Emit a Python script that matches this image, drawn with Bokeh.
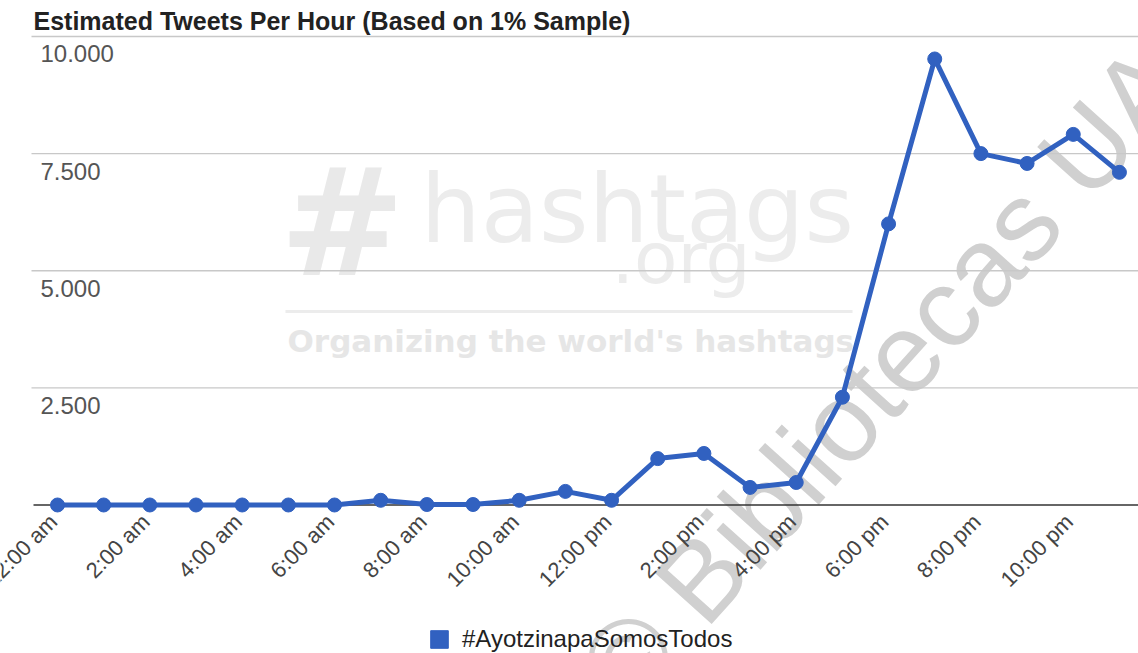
from math import pi, radians
from bokeh.plotting import figure
from bokeh.models import Range1d, Legend, LegendItem
from bokeh.core.properties import value
from bokeh.embed import file_html
from bokeh.resources import INLINE

# ---------------- data ----------------
hours = list(range(24))
tweets = [0, 0, 0, 0, 0, 0, 0, 100, 10, 10, 100, 290, 100, 990, 1100, 375,
          480, 2300, 6000, 9520, 7500, 7290, 7910, 7100]
tick_hours = [0, 2, 4, 6, 8, 10, 12, 14, 16, 18, 20, 22]
tick_labels = ["12:00 am", "2:00 am", "4:00 am", "6:00 am", "8:00 am", "10:00 am",
               "12:00 pm", "2:00 pm", "4:00 pm", "6:00 pm", "8:00 pm", "10:00 pm"]
y_ticks = [2500, 5000, 7500, 10000]
y_tick_labels = ["2.500", "5.000", "7.500", "10.000"]
series_name = "#AyotzinapaSomosTodos"
title_text = "Estimated Tweets Per Hour (Based on 1% Sample)"

# ---------------- layout ----------------
W, H = 1138, 653
X0, X1 = -1.2346, 23.413
Y0, Y1 = -3170, 10768
BLUE = "#3161c0"
FONT = value("Liberation Sans")


def xd(px):  # canvas pixel -> data x
    return X0 + px / W * (X1 - X0)


def yd(py):  # canvas pixel -> data y
    return Y1 - py / H * (Y1 - Y0)


p = figure(width=W, height=H, x_range=Range1d(X0, X1), y_range=Range1d(Y0, Y1),
           min_border=0, toolbar_location=None, x_axis_location=None,
           y_axis_location=None, output_backend="svg", title=None)
p.outline_line_color = None
p.background_fill_color = "white"
p.border_fill_color = "white"
p.grid.visible = False

# ---- watermarks ----
p.text(x=[xd(279)], y=[yd(222)], text=["#"], text_font=value("DejaVu Sans"),
       text_font_style="bold", text_font_size="150px", text_color="#e9e9e9",
       text_align="left", text_baseline="alphabetic")
p.text(x=[xd(420)], y=[yd(208)], text=["hashtags"], text_font=value("DejaVu Sans"),
       text_font_size="95px", text_color="#ececec",
       text_align="left", text_baseline="alphabetic")
p.text(x=[xd(611)], y=[yd(258)], text=[".org"], text_font=value("DejaVu Sans"),
       text_font_size="71px", text_color="#ececec",
       text_align="left", text_baseline="alphabetic")
p.segment(x0=[xd(285)], y0=[yd(311)], x1=[xd(852)], y1=[yd(311)],
          line_color="#ececec", line_width=3)
p.text(x=[xd(287)], y=[yd(340)], text=["Organizing the world's hashtags"],
       text_font=value("DejaVu Sans"), text_font_style="bold",
       text_font_size="31px", text_color="#e6e6e6",
       text_align="left", text_baseline="alphabetic")
p.text(x=[xd(882)], y=[yd(376)], text=["© Bibliotecas UA"], text_font=FONT,
       text_font_size="112px", text_color="#d0d0d0", angle=radians(48),
       text_align="center", text_baseline="middle")

# ---- grid & baseline ----
p.segment(x0=[xd(31)] * len(y_ticks), y0=y_ticks, x1=[X1] * len(y_ticks), y1=y_ticks,
          line_color="#c8c8c8", line_width=1.3)
p.segment(x0=[xd(33)], y0=[0], x1=[X1], y1=[0], line_color="#333333", line_width=1.6)

# ---- series ----
p.line(hours, tweets, line_width=5, line_color=BLUE, line_join="round")
p.scatter(hours, tweets, size=14, fill_color=BLUE, line_color=BLUE)

# ---- axis labels ----
p.text(x=tick_hours, y=[0] * len(tick_hours), text=tick_labels, angle=pi / 4,
       text_align="right", text_baseline="middle", x_offset=-4, y_offset=13,
       text_font=FONT, text_font_size="22px", text_color="#444444")
p.text(x=[X0] * len(y_ticks), y=y_ticks, text=y_tick_labels, x_offset=40, y_offset=9,
       text_align="left", text_baseline="top",
       text_font=FONT, text_font_size="24px", text_color="#555555")

# ---- title ----
p.text(x=[X0], y=[yd(20)], text=[title_text], x_offset=33,
       text_align="left", text_baseline="alphabetic", text_font=FONT,
       text_font_style="bold", text_font_size="25px", text_color="#222222")

# ---- legend ----
sq = p.rect(x=[X1 + 10], y=[0], width=1, height=1, fill_color=BLUE, line_color=BLUE)
legend = Legend(items=[LegendItem(label=series_name, renderers=[sq])],
                location=(428, 0), glyph_width=22, glyph_height=22,
                label_text_font="Liberation Sans", label_text_font_size="24px",
                label_text_color="#222222", label_standoff=12, padding=0,
                margin=0, border_line_color=None, background_fill_alpha=0)
p.add_layout(legend)

open("out.html", "w").write(file_html(p, INLINE))
